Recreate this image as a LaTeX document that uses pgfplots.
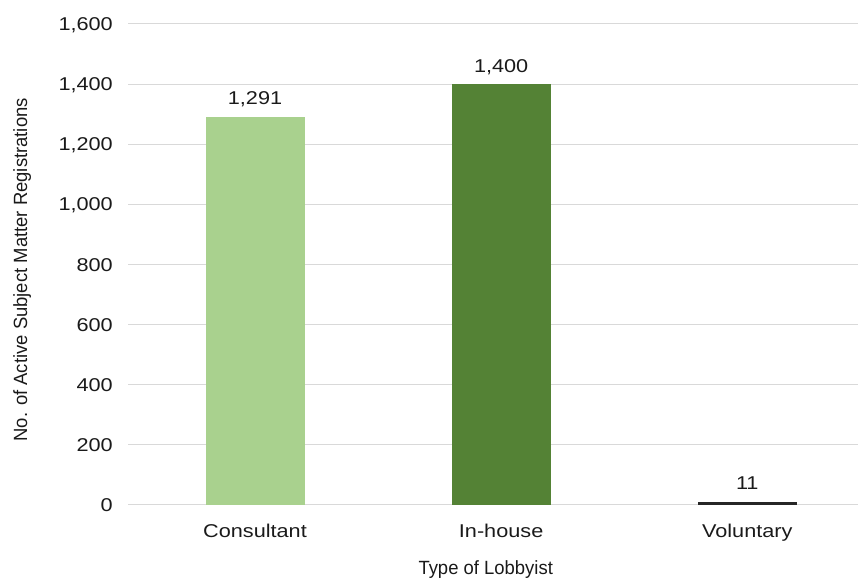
\documentclass[border=0pt]{standalone}
\usepackage{fontspec}
\usepackage{pgfplots}
\pgfplotsset{compat=1.18}
\setmainfont{Liberation Sans}
\newfontfamily\numfont[FakeStretch=1.17]{Liberation Sans}
\newfontfamily\labfont[FakeStretch=0.965]{Liberation Sans}
\definecolor{gridgray}{HTML}{D9D9D9}
\definecolor{lightgreen}{HTML}{A9D18E}
\definecolor{darkgreen}{HTML}{548235}
\definecolor{barblack}{HTML}{262626}
\definecolor{txt}{HTML}{1A1A1A}
\begin{document}
\begin{tikzpicture}[x=1bp,y=1bp]
\path[use as bounding box] (0,0) rectangle (859,584);
\begin{axis}[
  at={(128bp,79bp)}, anchor=south west,
  scale only axis, width=730bp, height=481bp,
  xmin=-0.516, xmax=2.45, ymin=0, ymax=1600,
  xtick={0,1,2},
  xticklabels={Consultant,In-house,Voluntary},
  ytick={0,200,...,1600},
  ymajorgrids, major grid style={draw=gridgray, line width=1bp},
  axis line style={draw=none}, tick style={draw=none},
  /pgf/number format/.cd, 1000 sep={,}, assume math mode=true,
  /pgfplots/.cd,
  xticklabel style={font=\numfont\fontsize{18.6}{20}\selectfont, text=txt, anchor=base, yshift=-33bp},
  yticklabel style={font=\numfont\fontsize{18.6}{20}\selectfont, text=txt, anchor=base east, inner sep=0pt, xshift=-15bp, yshift=-6.6bp},
  ylabel={No. of Active Subject Matter Registrations},
  ylabel style={at={(axis description cs:-0.145,0.489)}, anchor=center, font=\labfont\fontsize{19.2}{21}\selectfont, text=txt},
  xlabel={Type of Lobbyist},
  xlabel style={at={(axis description cs:0.49,-0.135)}, anchor=center, font=\labfont\fontsize{19.2}{21}\selectfont, text=txt},
  nodes near coords,
  every node near coord/.append style={anchor=base, yshift=12bp, font=\numfont\fontsize{18.6}{20}\selectfont, text=txt},
]
\addplot[ybar, bar width=99bp, bar shift=0pt, fill=lightgreen, draw=none] coordinates {(0,1291)};
\addplot[ybar, bar width=99bp, bar shift=0pt, fill=darkgreen, draw=none] coordinates {(1,1400)};
\addplot[ybar, bar width=99bp, bar shift=0pt, fill=barblack, draw=none] coordinates {(2,11)};
\end{axis}
\end{tikzpicture}
\end{document}
